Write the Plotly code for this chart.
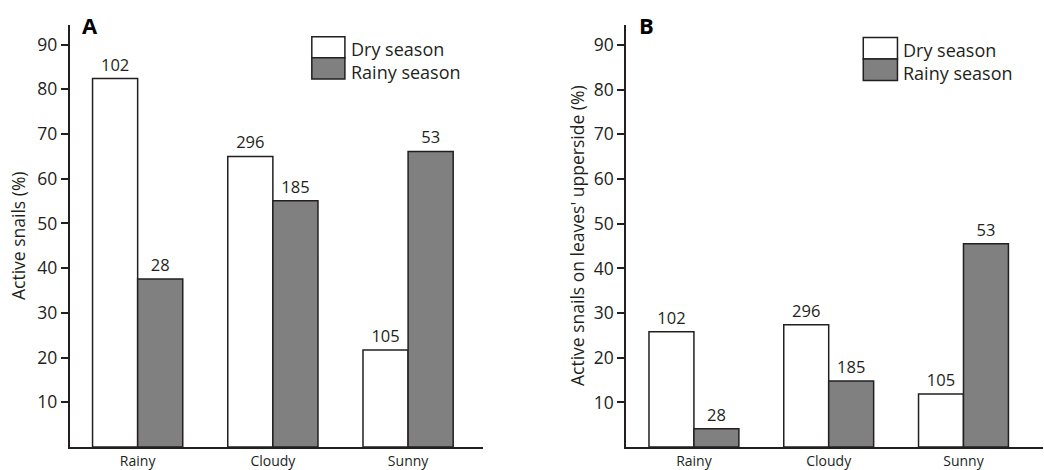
import plotly.graph_objects as go

conditions = ["Rainy", "Cloudy", "Sunny"]
dry_a = [82.4, 65.0, 21.7]
rainy_a = [37.6, 55.1, 66.1]
dry_b = [25.8, 27.4, 11.9]
rainy_b = [4.1, 14.8, 45.5]
dry_n = ["102", "296", "105"]
rainy_n = ["28", "185", "53"]
y_ticks = [10, 20, 30, 40, 50, 60, 70, 80, 90]

FONT = "Open Sans"
INK = "#231f20"
GRAY = "#808080"

fig = go.Figure()

def add_bars(xa, ya, dry, rainy):
    fig.add_trace(go.Bar(x=conditions, y=dry, text=dry_n, textposition="outside",
                         marker=dict(color="white", line=dict(color=INK, width=1.5)),
                         textfont=dict(size=16.5, color=INK, family=FONT),
                         cliponaxis=False, xaxis=xa, yaxis=ya, showlegend=False))
    fig.add_trace(go.Bar(x=conditions, y=rainy, text=rainy_n, textposition="outside",
                         marker=dict(color=GRAY, line=dict(color=INK, width=1.5)),
                         textfont=dict(size=16.5, color=INK, family=FONT),
                         cliponaxis=False, xaxis=xa, yaxis=ya, showlegend=False))

add_bars("x", "y", dry_a, rainy_a)
add_bars("x2", "y2", dry_b, rainy_b)

yb, yt = 21 / 470, 445 / 470
xaxis_common = dict(type="category", showline=True, linecolor=INK, linewidth=1.5,
                    ticks="", showgrid=False, zeroline=False,
                    tickfont=dict(size=14, color=INK, family=FONT))
yaxis_common = dict(showline=True, linecolor=INK, linewidth=1.5, ticks="outside",
                    ticklen=7, tickwidth=1.5, tickcolor=INK, showgrid=False, zeroline=False,
                    tickvals=y_ticks, tickfont=dict(size=17.5, color=INK, family=FONT))

fig.update_layout(
    width=1044, height=470, margin=dict(l=0, r=0, t=0, b=0),
    paper_bgcolor="white", plot_bgcolor="white",
    barmode="group", bargap=0.333, bargroupgap=0,
    font=dict(family=FONT, color=INK),
    xaxis=dict(domain=[69.5 / 1044, 483 / 1044], range=[-0.504, 2.554], anchor="y", **xaxis_common),
    yaxis=dict(domain=[yb, yt], range=[0, 94.4], anchor="x", **yaxis_common),
    xaxis2=dict(domain=[626 / 1044, 1043 / 1044], range=[-0.504, 2.59], anchor="y2", **xaxis_common),
    yaxis2=dict(domain=[yb, yt], range=[0, 94.5], anchor="x2", **yaxis_common),
)

# legends drawn as boxes
def legend(xr, yr, x0, x1, ytop, ymid, ybot, tx, ty1, ty2):
    fig.add_shape(type="rect", xref=xr, yref=yr, x0=x0, x1=x1, y0=ymid, y1=ytop,
                  fillcolor="white", line=dict(color=INK, width=1.5))
    fig.add_shape(type="rect", xref=xr, yref=yr, x0=x0, x1=x1, y0=ybot, y1=ymid,
                  fillcolor=GRAY, line=dict(color=INK, width=1.5))
    fig.add_annotation(xref=xr, yref=yr, x=tx, y=ty1, text="Dry season", showarrow=False,
                       xanchor="left", yanchor="middle", font=dict(size=18, color=INK, family=FONT))
    fig.add_annotation(xref=xr, yref=yr, x=tx, y=ty2, text="Rainy season", showarrow=False,
                       xanchor="left", yanchor="middle", font=dict(size=18, color=INK, family=FONT))

legend("x domain", "y domain", 0.586, 0.666, 0.972, 0.922, 0.872, 0.676, 0.943, 0.888)
legend("x2 domain", "y2 domain", 0.569, 0.651, 0.970, 0.919, 0.868, 0.660, 0.940, 0.885)

# panel letters
for lx, letter in [(80 / 1044, "A"), (637 / 1044, "B")]:
    fig.add_annotation(xref="paper", yref="paper", x=lx, y=1 - 8 / 470, text="<b>%s</b>" % letter,
                       showarrow=False, xanchor="left", yanchor="top",
                       font=dict(size=22, color="black", family=FONT))

# y axis titles
for tx, title in [(18 / 1044, "Active snails (%)"), (577 / 1044, "Active snails on leaves' upperside (%)")]:
    fig.add_annotation(xref="paper", yref="paper", x=tx, y=(470 - 237) / 470, text=title,
                       textangle=-90, showarrow=False, xanchor="center", yanchor="middle",
                       font=dict(size=17.5, color=INK, family=FONT))

fig.write_html("out.html")
